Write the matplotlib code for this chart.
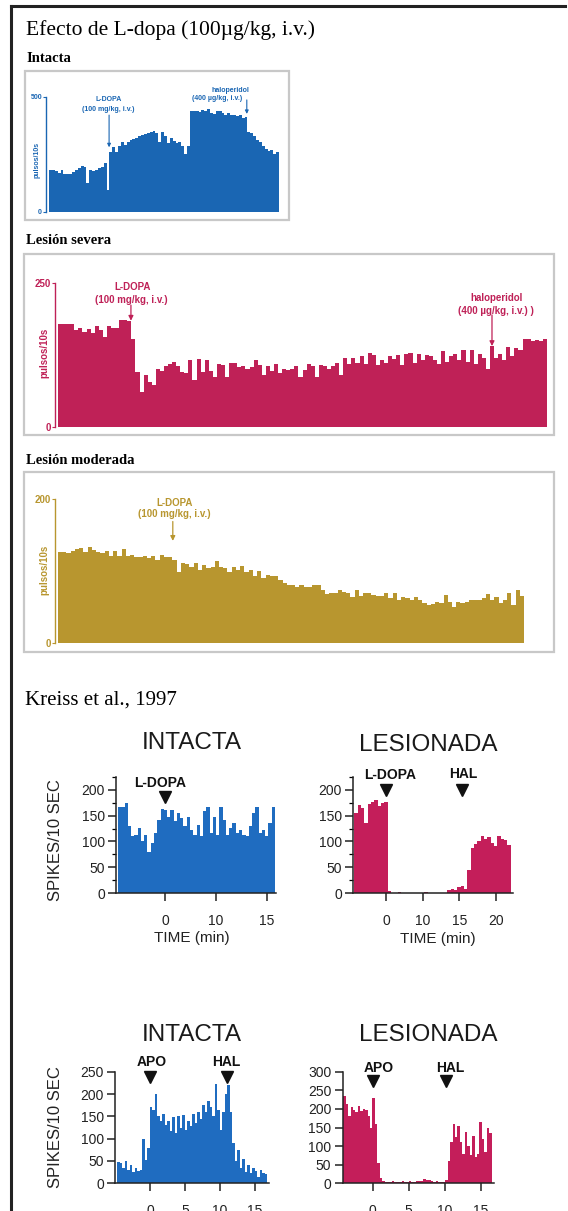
import numpy as np
import matplotlib
matplotlib.use("Agg")
import matplotlib.pyplot as plt
from matplotlib.patches import Rectangle
from matplotlib.lines import Line2D
from matplotlib.ticker import MultipleLocator

# ---- data: upper panels (pulsos/10s per bin) ----
intacta_vals = [180, 180, 176, 169, 180, 166, 163, 166, 173, 180, 192, 200, 195, 124,
                180, 178, 183, 188, 195, 212, 95, 259, 280, 259, 287, 301, 291, 305,
                311, 315, 322, 328, 334, 339, 344, 348, 351, 344, 305, 348, 330, 297,
                322, 308, 297, 301, 287, 251, 287, 436, 436, 439, 433, 443, 436, 447,
                429, 425, 436, 439, 429, 422, 429, 422, 419, 415, 419, 408, 411, 348,
                344, 330, 311, 301, 287, 273, 266, 269, 251, 259]

severa_vals = [178, 178, 178, 178, 168, 171, 165, 169, 163, 175, 168, 155, 175, 172,
               172, 185, 186, 183, 153, 95, 61, 90, 78, 72, 100, 97, 105, 109, 113,
               105, 95, 94, 116, 81, 117, 95, 115, 97, 87, 109, 107, 87, 110, 111,
               104, 105, 101, 104, 116, 107, 90, 105, 97, 109, 94, 101, 98, 101, 105,
               87, 98, 109, 105, 87, 107, 105, 101, 105, 110, 90, 120, 109, 119, 110,
               122, 109, 128, 124, 107, 115, 111, 122, 117, 124, 107, 127, 128, 110,
               126, 115, 124, 123, 116, 109, 132, 113, 122, 126, 116, 133, 113, 133,
               109, 126, 119, 101, 140, 119, 127, 115, 139, 123, 136, 133, 152, 153,
               149, 150, 148, 153]

moderada_vals = [127, 127, 125, 128, 130, 132, 127, 133, 129, 127, 125, 128, 121, 128,
                 121, 130, 121, 122, 120, 119, 121, 118, 121, 115, 122, 119, 120, 116,
                 98, 111, 110, 106, 111, 102, 108, 104, 106, 114, 106, 104, 99, 105,
                 101, 107, 99, 101, 93, 100, 90, 94, 93, 93, 87, 83, 80, 80, 78, 80,
                 77, 78, 80, 80, 74, 68, 69, 70, 73, 71, 69, 64, 73, 65, 70, 69, 67,
                 65, 65, 69, 62, 70, 60, 64, 62, 59, 64, 60, 56, 53, 54, 57, 55, 67,
                 57, 50, 57, 56, 57, 60, 60, 59, 62, 68, 60, 64, 55, 60, 69, 53, 73, 65]

# ---- data: Kreiss et al., 1997 (spikes/10 sec) ----
k_int_ldopa = [166, 166, 175, 129, 110, 112, 126, 100, 113, 80, 97, 116, 142, 163, 160,
               148, 161, 139, 155, 145, 129, 148, 123, 113, 132, 110, 158, 166, 116, 148,
               113, 166, 142, 113, 126, 135, 116, 123, 113, 110, 129, 154, 166, 116, 123,
               110, 135, 166]
k_les_ldopa = [155, 171, 165, 135, 172, 177, 181, 168, 175, 176, 4,
               1, 1, 2, 1, 1, 1, 0, 1, 1, 1, 2, 1, 1, 1, 1, 1, 1,
               6, 9, 6, 12, 15, 8, 45, 88, 96, 100, 110, 105, 108, 98, 92, 110, 105, 102, 94]
k_int_apo = [48, 45, 34, 50, 30, 41, 25, 35, 28, 30, 100, 52, 78, 170, 165, 200, 150, 140,
             155, 130, 140, 118, 148, 112, 150, 125, 152, 120, 140, 128, 155, 135, 160,
             145, 175, 160, 185, 170, 150, 222, 165, 120, 160, 200, 220, 160, 90, 50, 75,
             35, 55, 25, 40, 22, 35, 28, 15, 30, 22, 20]
k_les_apo = [235, 212, 180, 205, 198, 192, 208, 195, 200, 198, 180, 150, 228, 160, 55, 15, 6,
             4, 3, 4, 5, 3, 4, 4, 5, 4, 3, 5, 4, 4, 5, 6, 5, 12, 10, 8, 5, 4, 5, 4, 3, 4,
             8, 60, 110, 160, 125, 155, 110, 80, 138, 100, 75, 128, 72, 78, 165, 120, 85,
             150, 135]

BLUE = '#1a66b3'
RED = '#bf2157'
GOLD = '#b8962f'
KBLUE = '#1f6cc0'
KRED = '#c41e5a'

plt.rcParams['font.family'] = ['Liberation Sans', 'DejaVu Sans']

W, H = 568, 1211
fig = plt.figure(figsize=(W / 100, H / 100), dpi=100)


def rect(x0, y0, x1, y1):
    return [x0 / W, 1 - y1 / H, (x1 - x0) / W, (y1 - y0) / H]


def ftext(x, y, s, **kw):
    fig.text(x / W, 1 - y / H, s, **kw)


# outer frame
fig.add_artist(Line2D([11 / W, 11 / W], [0, 1 - 6 / H], color='#222222', lw=2.2))
fig.add_artist(Line2D([11 / W, 565 / W], [1 - 6 / H, 1 - 6 / H], color='#222222', lw=2.2))

serif = ['Liberation Serif', 'DejaVu Serif']
ftext(26, 30, 'Efecto de L-dopa (100µg/kg, i.v.)', family=serif, fontsize=15.5, va='center')
ftext(26, 58, 'Intacta', family=serif, fontsize=10.5, fontweight='bold', va='center')
ftext(26, 241, 'Lesión severa', family=serif, fontsize=10.5, fontweight='bold', va='center')
ftext(26, 460, 'Lesión moderada', family=serif, fontsize=10.5, fontweight='bold', va='center')
ftext(25, 700, 'Kreiss et al., 1997', family=serif, fontsize=15, va='center')


def top_panel(frame, box, vals, ymax, color, fs, ylab_xy):
    x0, y0, x1, y1 = frame
    fig.add_artist(Rectangle((x0 / W, 1 - y1 / H), (x1 - x0) / W, (y1 - y0) / H,
                             transform=fig.transFigure, fill=False,
                             ec='#c8c8c8', lw=1.6))
    ax = fig.add_axes(rect(*box))
    ax.stairs(vals, fill=True, color=color, lw=0)
    ax.set_xlim(0, len(vals))
    ax.set_ylim(0, ymax)
    for s in ['top', 'right', 'bottom']:
        ax.spines[s].set_visible(False)
    ax.spines['left'].set_color(color)
    ax.spines['left'].set_linewidth(1.0)
    ax.spines['left'].set_position(('outward', 2))
    ax.set_xticks([])
    ax.set_yticks([0, ymax])
    ax.tick_params(axis='y', colors=color, length=2, width=0.8, labelsize=fs, pad=1)
    for t in ax.get_yticklabels():
        t.set_fontweight('bold')
    ax.patch.set_alpha(0)
    ftext(ylab_xy[0], ylab_xy[1], 'pulsos/10s', rotation=90, color=color,
          fontsize=fs, fontweight='bold', ha='center', va='center')
    return ax


def note(ax, x, y, s, color, fs):
    ax.text(x, y, s, color=color, fontsize=fs, fontweight='bold',
            ha='center', va='center', clip_on=False)


def arrow(ax, x, y_from, y_to, color, lw=0.9, ms=7):
    ax.annotate('', xy=(x, y_to), xytext=(x, y_from), annotation_clip=False,
                arrowprops=dict(arrowstyle='-|>', color=color, lw=lw,
                                mutation_scale=ms, shrinkA=0, shrinkB=0))


# Intacta
ax = top_panel((25, 71, 289, 220), (49, 96.7, 279, 211.7), intacta_vals, 500, BLUE, 5,
               (37, 160))
note(ax, 20.7, 486, 'L-DOPA', BLUE, 5)
note(ax, 20.5, 446, '(100 mg/kg, i.v.)', BLUE, 5)
arrow(ax, 20.9, 420, 280, BLUE, lw=0.8, ms=5)
note(ax, 63, 528, 'haloperidol', BLUE, 5)
note(ax, 58.5, 490, '(400 µg/kg, i.v.)', BLUE, 5)
arrow(ax, 68.8, 486, 425, BLUE, lw=0.8, ms=5)

# Lesion severa
ax = top_panel((24, 254, 554, 435), (58, 282.7, 547, 426.7), severa_vals, 250, RED, 7,
               (44, 353))
note(ax, 18.4, 243, 'L-DOPA', RED, 7)
note(ax, 18.0, 220, '(100 mg/kg, i.v.)', RED, 7)
arrow(ax, 17.9, 211, 184, RED)
note(ax, 107.7, 223, 'haloperidol', RED, 7)
note(ax, 107.4, 201.5, '(400 µg/kg, i.v.) )', RED, 7)
arrow(ax, 106.5, 194, 140, RED)

# Lesion moderada
ax = top_panel((24, 472, 554, 652), (58, 499.3, 524, 642.7), moderada_vals, 200, GOLD, 7,
               (44, 570))
note(ax, 27.4, 194.5, 'L-DOPA', GOLD, 7)
note(ax, 27.4, 179.6, '(100 mg/kg, i.v.)', GOLD, 7)
arrow(ax, 27.1, 169, 142, GOLD)


# ---- Kreiss panels ----
def kreiss(box, xlim, ylim, edges, vals, color, yticks, xticks, xlabels, minor=None):
    ax = fig.add_axes(rect(*box))
    ax.stairs(vals, edges, fill=True, color=color, lw=0)
    ax.set_xlim(xlim)
    ax.set_ylim(ylim)
    for s in ['top', 'right']:
        ax.spines[s].set_visible(False)
    for s in ['left', 'bottom']:
        ax.spines[s].set_linewidth(1.1)
        ax.spines[s].set_color('#222222')
    ax.set_yticks(yticks)
    ax.set_xticks(xticks, xlabels)
    if minor:
        ax.yaxis.set_minor_locator(MultipleLocator(minor))
    ax.tick_params(direction='out', length=6, width=1.1, labelsize=10, pad=2,
                   colors='#222222')
    ax.tick_params(axis='x', pad=9)
    ax.tick_params(which='minor', length=3, width=0.9)
    ax.patch.set_alpha(0)
    return ax


def marker(ax, x, y_txt, y_tri, s):
    ax.text(x[0], y_txt, s, fontsize=10, fontweight='bold', ha='center', va='center',
            color='#111111', clip_on=False)
    ax.plot([x[1]], [y_tri], marker='v', ms=9, color='#111111', clip_on=False)


# top-left: intacta, L-DOPA
ax = kreiss((116, 776.7, 276, 893.3), (-4.8, 10.9), (0, 225),
            np.linspace(-4.6, 10.8, len(k_int_ldopa) + 1), k_int_ldopa, KBLUE,
            [0, 50, 100, 150, 200], [0, 5, 10], ['0', '10', '15'], minor=25)
marker(ax, (-0.48, 0), 213, 186, 'L-DOPA')

# top-right: lesionada, L-DOPA + HAL
ax = kreiss((353, 776.7, 512.8, 893.3), (-4.5, 17.3), (0, 225),
            np.linspace(-4.3, 17.0, len(k_les_ldopa) + 1), k_les_ldopa, KRED,
            [0, 50, 100, 150, 200], [0, 5, 10, 15], ['0', '10', '15', '20'], minor=25)
marker(ax, (0.55, 0), 228, 200, 'L-DOPA')
marker(ax, (10.55, 10.4), 230, 200, 'HAL')

# bottom-left: intacta, APO + HAL
ax = kreiss((115, 1071.7, 269, 1183.3), (-5.0, 17.0), (0, 250),
            np.linspace(-4.67, 16.76, len(k_int_apo) + 1), k_int_apo, KBLUE,
            [0, 50, 100, 150, 200, 250], [0, 5, 10, 15], ['0', '5', '10', '15'])
marker(ax, (0.24, 0), 272, 238, 'APO')
marker(ax, (10.86, 10.96), 272, 238, 'HAL')

# bottom-right: lesionada, APO + HAL
ax = kreiss((342.5, 1071.7, 494.4, 1183.3), (-4.2, 16.9), (0, 300),
            np.linspace(-4.1, 16.5, len(k_les_apo) + 1), k_les_apo, KRED,
            [0, 50, 100, 150, 200, 250, 300], [0, 5, 10, 15], ['0', '5', '10', '15'])
marker(ax, (0.78, 0), 309, 274, 'APO')
marker(ax, (10.7, 10.2), 309, 274, 'HAL')

# titles and labels
for x, y, s in [(191.7, 743.3, 'INTACTA'), (428.3, 745, 'LESIONADA'),
                (191.7, 1035, 'INTACTA'), (428.3, 1035, 'LESIONADA')]:
    ftext(x, y, s, fontsize=17.5, ha='center', va='center', color='#1a1a1a')
for y in (840, 1127):
    ftext(55, y, 'SPIKES/10 SEC', rotation=90, fontsize=12, ha='center', va='center',
          color='#222222')
ftext(191.7, 938, 'TIME (min)', fontsize=11, ha='center', va='center', color='#222222')
ftext(438.3, 939, 'TIME (min)', fontsize=11, ha='center', va='center', color='#222222')

fig.savefig('out.png', dpi=100)
